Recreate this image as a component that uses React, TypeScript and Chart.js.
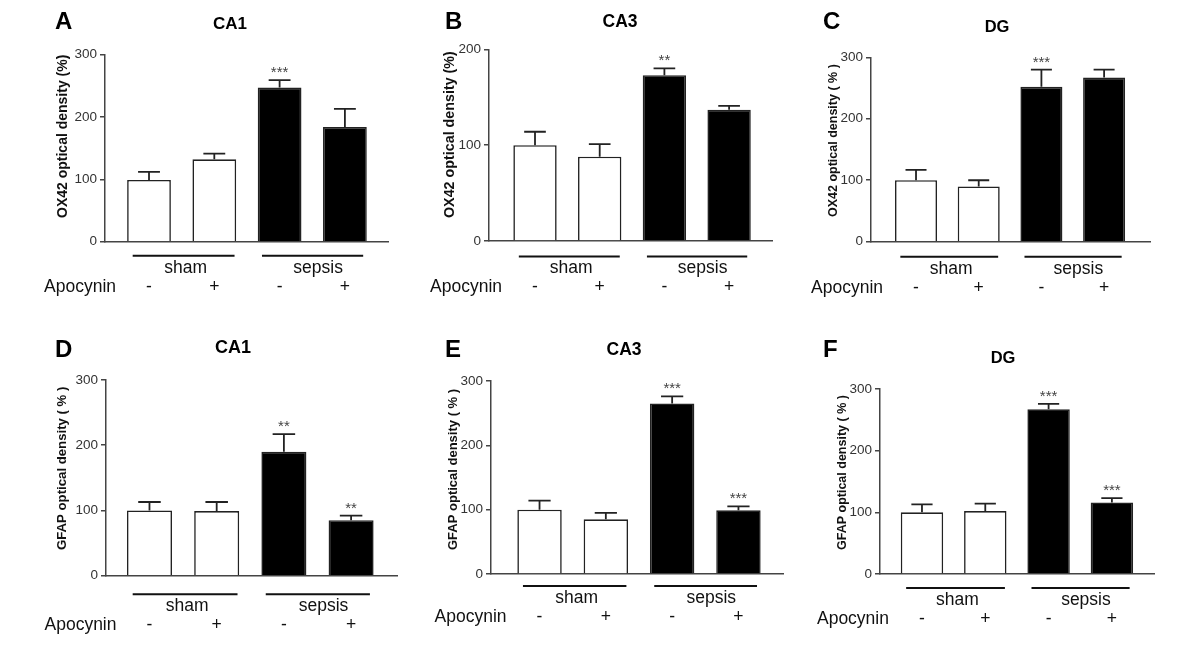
import React, { useEffect, useRef } from 'react';
import { Chart, registerables } from 'chart.js';

Chart.register(...registerables);

const FONT = '"Liberation Sans", Arial, Helvetica, sans-serif';

// ---------------- data ----------------
const groupLabels = ['sham', 'sepsis'];
const apocyninLabel = 'Apocynin';
const apocyninSigns = ['-', '+', '-', '+'];
const barFills = ['#ffffff', '#ffffff', '#000000', '#000000'];

const panelLetters = ['A', 'B', 'C', 'D', 'E', 'F'];
const regionTitles = ['CA1', 'CA3', 'DG', 'CA1', 'CA3', 'DG'];
const yAxisTitles = [
  'OX42 optical density (%)',
  'OX42 optical density (%)',
  'OX42 optical density ( % )',
  'GFAP optical density ( % )',
  'GFAP optical density ( % )',
  'GFAP optical density ( % )',
];
const yAxisMax = [300, 200, 300, 300, 300, 300];
const yTickStep = 100;

// OX42 (microglia)
const ox42CA1Mean = [99, 132, 247, 184];
const ox42CA1Sem = [13, 9, 12, 29];
const ox42CA1Stars = ['', '', '***', ''];

const ox42CA3Mean = [100, 88, 173, 137];
const ox42CA3Sem = [14, 13, 7, 4];
const ox42CA3Stars = ['', '', '**', ''];

const ox42DGMean = [100, 90, 252, 267];
const ox42DGSem = [17, 10, 28, 13];
const ox42DGStars = ['', '', '***', ''];

// GFAP (astrocytes)
const gfapCA1Mean = [100, 99, 190, 85];
const gfapCA1Sem = [13, 14, 27, 7];
const gfapCA1Stars = ['', '', '**', '**'];

const gfapCA3Mean = [100, 85, 265, 99];
const gfapCA3Sem = [14, 10, 11, 6];
const gfapCA3Stars = ['', '', '***', '***'];

const gfapDGMean = [100, 102, 267, 116];
const gfapDGSem = [13, 12, 9, 7];
const gfapDGStars = ['', '', '***', '***'];

const PANELS = [
  { mean: ox42CA1Mean, sem: ox42CA1Sem, stars: ox42CA1Stars },
  { mean: ox42CA3Mean, sem: ox42CA3Sem, stars: ox42CA3Stars },
  { mean: ox42DGMean, sem: ox42DGSem, stars: ox42DGStars },
  { mean: gfapCA1Mean, sem: gfapCA1Sem, stars: gfapCA1Stars },
  { mean: gfapCA3Mean, sem: gfapCA3Sem, stars: gfapCA3Stars },
  { mean: gfapDGMean, sem: gfapDGSem, stars: gfapDGStars },
];

// ---------------- layout (page coordinates) ----------------
const groupSpans = [
  [-0.25, 1.31],
  [1.73, 3.28],
];
const groupLabelPos = [0.56, 2.59];

const LAYOUT = [
  { box: [0, 0, 400, 320], plot: [105, 54.5, 388, 241.7], xr: [-0.674, 3.66], letter: [55, 29], title: [230, 24], titleSize: 17, lineDy: 14, yt: [63, 218, 14] },
  { box: [400, 0, 390, 320], plot: [489, 49.3, 772, 241], xr: [-0.711, 3.663], letter: [445, 29], title: [620, 22], titleSize: 17.5, lineDy: 15.5, yt: [450, 218, 14.3] },
  { box: [790, 0, 410, 320], plot: [871, 57.3, 1150, 241.7], xr: [-0.718, 3.732], letter: [823, 29], title: [997, 27], titleSize: 16.5, lineDy: 15, yt: [834, 217, 12.5] },
  { box: [0, 320, 400, 332], plot: [106, 380, 397, 575.7], xr: [-0.647, 3.683], letter: [55, 357], title: [233, 348], titleSize: 18, lineDy: 18.5, yt: [62, 550, 13.2] },
  { box: [400, 320, 390, 332], plot: [491, 381, 783, 574], xr: [-0.732, 3.672], letter: [445, 357], title: [624, 350], titleSize: 17.5, lineDy: 12, yt: [453, 550, 13] },
  { box: [790, 320, 410, 332], plot: [880, 389, 1154, 574], xr: [-0.663, 3.665], letter: [823, 357], title: [1003, 358], titleSize: 16.5, lineDy: 14, yt: [843, 550, 12.5] },
];

const Y_AXIS_W = 40;

function Panel({ idx }: { idx: number }) {
  const ref = useRef<HTMLCanvasElement | null>(null);

  useEffect(() => {
    const L = LAYOUT[idx];
    const P = PANELS[idx];
    const [bx, by, bw, bh] = L.box;
    const [pl, pt, pr, pb] = L.plot;

    const annot = {
      id: 'annot' + idx,
      afterDraw(chart: any) {
        const ctx = chart.ctx as CanvasRenderingContext2D;
        const xs = chart.scales.x;
        const ys = chart.scales.y;
        const meta = chart.getDatasetMeta(0);
        const area = chart.chartArea;
        ctx.save();

        // error bars (upper only) and significance stars
        P.mean.forEach((m: number, i: number) => {
          const xp = xs.getPixelForValue(i);
          const y0 = ys.getPixelForValue(m);
          const y1 = ys.getPixelForValue(m + P.sem[i]);
          const bar = meta.data[i] as any;
          const half = (bar.width || 44) / 4;
          ctx.strokeStyle = '#222';
          ctx.lineWidth = 1.8;
          ctx.beginPath();
          ctx.moveTo(xp, y0);
          ctx.lineTo(xp, y1);
          ctx.moveTo(xp - half, y1);
          ctx.lineTo(xp + half, y1);
          ctx.stroke();
          if (P.stars[i]) {
            ctx.fillStyle = '#444';
            ctx.font = `15px ${FONT}`;
            ctx.textAlign = 'center';
            ctx.textBaseline = 'alphabetic';
            ctx.fillText(P.stars[i], xp, y1 - 3);
          }
        });

        // group lines + labels
        const lineY = area.bottom + L.lineDy;
        ctx.strokeStyle = '#111';
        ctx.lineWidth = 2;
        groupSpans.forEach((s) => {
          ctx.beginPath();
          ctx.moveTo(xs.getPixelForValue(s[0]), lineY);
          ctx.lineTo(xs.getPixelForValue(s[1]), lineY);
          ctx.stroke();
        });
        ctx.fillStyle = '#111';
        ctx.font = `17.5px ${FONT}`;
        ctx.textAlign = 'center';
        ctx.textBaseline = 'middle';
        groupLabels.forEach((g, i) => {
          ctx.fillText(g, xs.getPixelForValue(groupLabelPos[i]), lineY + 12);
        });

        // Apocynin row
        const rowY = lineY + 31;
        ctx.textAlign = 'right';
        ctx.fillText(apocyninLabel, xs.getPixelForValue(0) - 33, rowY);
        ctx.textAlign = 'center';
        apocyninSigns.forEach((s, i) => {
          ctx.fillText(s, xs.getPixelForValue(i), rowY);
        });

        // y axis title (rotated)
        ctx.save();
        ctx.translate(L.yt[0] - bx, L.yt[1] - by);
        ctx.rotate(-Math.PI / 2);
        ctx.font = `bold ${L.yt[2]}px ${FONT}`;
        ctx.textAlign = 'left';
        ctx.textBaseline = 'middle';
        ctx.fillStyle = '#111';
        ctx.fillText(yAxisTitles[idx], 0, 0);
        ctx.restore();

        // panel letter
        ctx.fillStyle = '#000';
        ctx.font = `bold 24px ${FONT}`;
        ctx.textAlign = 'left';
        ctx.textBaseline = 'alphabetic';
        ctx.fillText(panelLetters[idx], L.letter[0] - bx, L.letter[1] - by);

        // region title
        ctx.font = `bold ${L.titleSize}px ${FONT}`;
        ctx.textAlign = 'center';
        ctx.textBaseline = 'middle';
        ctx.fillText(regionTitles[idx], L.title[0] - bx, L.title[1] - by);

        ctx.restore();
      },
    };

    const chart = new Chart(ref.current as HTMLCanvasElement, {
      type: 'bar',
      data: {
        datasets: [
          {
            data: P.mean.map((v: number, i: number) => ({ x: i, y: v })),
            backgroundColor: barFills,
            borderColor: '#222',
            borderWidth: 1.6,
            barPercentage: 0.67,
            categoryPercentage: 1,
          },
        ],
      },
      options: {
        animation: false,
        responsive: false,
        devicePixelRatio: 1,
        layout: {
          padding: {
            left: pl - bx - Y_AXIS_W,
            top: pt - by,
            right: bx + bw - pr,
            bottom: by + bh - pb,
          },
        },
        plugins: {
          legend: { display: false },
          tooltip: { enabled: false },
          title: { display: false },
        },
        scales: {
          x: {
            type: 'linear',
            min: L.xr[0],
            max: L.xr[1],
            offset: false,
            grid: { display: false },
            border: { display: true, color: '#444', width: 1.5 },
            ticks: { display: false },
            afterBuildTicks: (s: any) => {
              s.ticks = [0, 1, 2, 3].map((v) => ({ value: v }));
            },
            afterFit: (s: any) => {
              s.height = 0;
            },
          },
          y: {
            min: 0,
            max: yAxisMax[idx],
            ticks: {
              stepSize: yTickStep,
              color: '#333',
              font: { family: FONT, size: 13.5 },
              padding: 3,
            },
            grid: {
              display: true,
              drawOnChartArea: false,
              drawTicks: true,
              tickLength: 5,
              color: '#444',
              lineWidth: 1.5,
            },
            border: { display: true, color: '#444', width: 1.5 },
            afterFit: (s: any) => {
              s.width = Y_AXIS_W;
            },
          },
        },
      } as any,
      plugins: [annot],
    });
    return () => chart.destroy();
  }, [idx]);

  const [bx, by, bw, bh] = LAYOUT[idx].box;
  return (
    <canvas
      ref={ref}
      width={bw}
      height={bh}
      style={{ position: 'absolute', left: bx, top: by, width: bw, height: bh }}
    />
  );
}

export default function App() {
  return (
    <div
      style={{
        position: 'absolute',
        left: 0,
        top: 0,
        width: 1200,
        height: 652,
        background: '#ffffff',
        overflow: 'hidden',
      }}
    >
      {PANELS.map((_, i) => (
        <Panel key={i} idx={i} />
      ))}
    </div>
  );
}
